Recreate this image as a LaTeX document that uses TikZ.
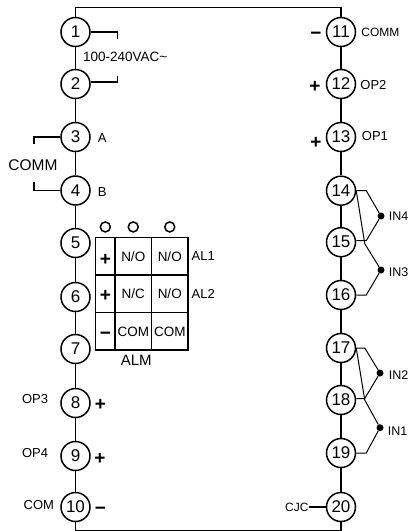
\documentclass[tikz,border=0pt]{standalone}
\usepackage{fontspec}
\setmainfont{Liberation Sans}
\usetikzlibrary{positioning,shapes.geometric}
\tikzset{
  terminalNode/.style={
    circle,
    draw=black,
    line width=1.5pt,
    minimum size=29pt,
    inner sep=0pt,
    on grid,
    font=\fontsize{17}{19}\selectfont
  },
  mainLine/.style={
    line width=1.5pt
  },
  thinLine/.style={
    line width=1pt
  },
  tagText/.style={
    inner sep=0pt,
    font=\fontsize{13}{15}\selectfont
  },
  signText/.style={
    inner sep=0pt,
    font=\fontsize{19}{21}\selectfont
  },
  alarmCell/.style={
    rectangle,
    draw=black,
    line width=1.5pt,
    outer sep=0pt,
    inner sep=0pt,
    minimum height=37.5pt,
    font=\fontsize{13.5}{15}\selectfont
  },
  signCell/.style={alarmCell, minimum width=19.3pt},
  wideCell/.style={alarmCell, minimum width=36.5pt},
  relayDot/.style={
    circle,
    draw=black,
    line width=1.5pt,
    minimum size=10pt,
    inner sep=0pt
  },
  inputDot/.style={
    circle,
    fill=black,
    minimum size=7pt,
    inner sep=0pt
  }
}
\begin{document}
\begin{tikzpicture}[x=1pt,y=-1pt]
        \useasboundingbox (0,0) rectangle (411,531);

        % left terminals
        \node[terminalNode] (t1) at (75.5,32) {1};
        \node[terminalNode, below=52pt of t1] (t2) {2};
        \node[terminalNode, below=53pt of t2] (t3) {3};
        \node[terminalNode, below=53.5pt of t3] (t4) {4};
        \node[terminalNode, below=52.5pt of t4] (t5) {5};
        \node[terminalNode, below=54pt of t5] (t6) {6};
        \node[terminalNode, below=52pt of t6] (t7) {7};
        \node[terminalNode, below=54pt of t7] (t8) {8};
        \node[terminalNode, below=53pt of t8] (t9) {9};
        \node[terminalNode, below=51pt of t9] (t10) {10};

        % right terminals
        \node[terminalNode] (t11) at (341,32) {11};
        \node[terminalNode, below=52pt of t11] (t12) {12};
        \node[terminalNode, below=53pt of t12] (t13) {13};
        \node[terminalNode, below=53.7pt of t13] (t14) {14};
        \node[terminalNode, below=51.5pt of t14] (t15) {15};
        \node[terminalNode, below=52.8pt of t15] (t16) {16};
        \node[terminalNode, below=53pt of t16] (t17) {17};
        \node[terminalNode, below=52pt of t17] (t18) {18};
        \node[terminalNode, below=53pt of t18] (t19) {19};
        \node[terminalNode, below=54pt of t19] (t20) {20};

        % alarm table
        \node[signCell, anchor=north west] (c11) at (95.7,237.7) {};
        \node[wideCell, right=0pt of c11] (c12) {N/O};
        \node[wideCell, right=0pt of c12] (c13) {N/O};
        \node[signCell, below=0pt of c11] (c21) {};
        \node[wideCell, right=0pt of c21] (c22) {N/C};
        \node[wideCell, right=0pt of c22] (c23) {N/O};
        \node[signCell, below=0pt of c21] (c31) {};
        \node[wideCell, right=0pt of c31] (c32) {COM};
        \node[wideCell, right=0pt of c32] (c33) {COM};
        \node[signText, yshift=-3pt] (plusA) at (c11) {\textbf{+}};
        \node[signText, yshift=-2pt] (plusB) at (c21) {\textbf{+}};
        \node[signText, yshift=-4pt] (minusC) at (c31) {\textbf{−}};
        \node[relayDot, above=5pt of c11] (r1) {};
        \node[relayDot, above=5pt of c12] (r2) {};
        \node[relayDot, above=5pt of c13] (r3) {};
        \node[tagText, right=3.5pt of c13] (al1) {AL1};
        \node[tagText, right=3.5pt of c23] (al2) {AL2};
        \node[tagText, below=5pt of c32, xshift=3pt, font=\fontsize{15}{17}\selectfont] (alm) {ALM};

        % free ends
        \coordinate (f1) at (117.3,39);
        \coordinate (f2) at (117.3,76);
        \coordinate (f3) at (34,144);
        \coordinate (f4) at (34,182);
        \coordinate (topL) at (75.5,7.5);
        \coordinate (topR) at (341,7.5);
        \coordinate (botL) at (75.5,530.5);
        \coordinate (botR) at (341,530.5);

        % input dots
        \node[inputDot] (in4) at (381,216) {};
        \node[inputDot] (in3) at (381,270) {};
        \node[inputDot] (in2) at (380,373) {};
        \node[inputDot] (in1) at (380,427.7) {};

        % labels
        \node[tagText, anchor=west, font=\fontsize{13.5}{15}\selectfont] (ac) at (83,57) {100-240VAC\textasciitilde};
        \node[tagText, right=7pt of t3, yshift=-1pt] (la) {A};
        \node[tagText, right=7pt of t4, yshift=-2pt] (lb) {B};
        \node[tagText, font=\fontsize{15.5}{17}\selectfont] (comm) at (33,165) {COMM};
        \node[tagText, left=12pt of t8, yshift=4pt] (op3) {OP3};
        \node[tagText, left=12pt of t9, yshift=3pt] (op4) {OP4};
        \node[tagText, left=6pt of t10, yshift=2pt] (com) {COM};
        \node[signText, right=4pt of t8, yshift=-2pt] (p8) {\textbf{+}};
        \node[signText, right=3.5pt of t9, yshift=-3pt] (p9) {\textbf{+}};
        \node[signText, right=4pt of t10, yshift=-4pt] (m10) {\textbf{−}};
        \node[signText, left=4pt of t11, yshift=-4pt] (m11) {\textbf{−}};
        \node[signText, left=5pt of t12, yshift=-3pt] (p12) {\textbf{+}};
        \node[signText, left=4pt of t13, yshift=-6pt] (p13) {\textbf{+}};
        \node[tagText, right=5pt of t11, font=\fontsize{12}{14}\selectfont] (lcomm) {COMM};
        \node[tagText, right=4pt of t12, yshift=-1pt] (op2) {OP2};
        \node[tagText, right=5.5pt of t13, yshift=1pt] (op1) {OP1};
        \node[tagText, right=4pt of in4, font=\fontsize{12.5}{14}\selectfont] (lin4) {IN4};
        \node[tagText, right=4pt of in3, yshift=-2pt, font=\fontsize{12.5}{14}\selectfont] (lin3) {IN3};
        \node[tagText, right=5pt of in2, yshift=-2pt, font=\fontsize{12.5}{14}\selectfont] (lin2) {IN2};
        \node[tagText, right=4pt of in1, yshift=-3pt, font=\fontsize{12.5}{14}\selectfont] (lin1) {IN1};
        \node[tagText, left=17pt of t20, font=\fontsize{12}{14}\selectfont] (cjc) {CJC};

        % frame and column lines
        \draw[mainLine] (t1) -- (topL) -- (topR) -- (t11);
        \draw[mainLine] (t10) -- (botL) -- (botR) -- (t20);
        \draw[mainLine] (t1) -- (t2);
        \draw[mainLine] (t2) -- (t3);
        \draw[mainLine] (t3) -- (t4);
        \draw[mainLine] (t4) -- (t5);
        \draw[mainLine] (t5) -- (t6);
        \draw[mainLine] (t6) -- (t7);
        \draw[mainLine] (t7) -- (t8);
        \draw[mainLine] (t8) -- (t9);
        \draw[mainLine] (t9) -- (t10);
        \draw[mainLine] (t11) -- (t12);
        \draw[mainLine] (t12) -- (t13);
        \draw[mainLine] (t13) -- (t14);
        \draw[mainLine] (t14) -- (t15);
        \draw[mainLine] (t15) -- (t16);
        \draw[mainLine] (t16) -- (t17);
        \draw[mainLine] (t17) -- (t18);
        \draw[mainLine] (t18) -- (t19);
        \draw[mainLine] (t19) -- (t20);

        % supply and comm brackets
        \draw[mainLine] (t1) -| (f1);
        \draw[mainLine] (t2.east) ++(0,-2) -| (f2);
        \draw[mainLine] (t3) -| (f3);
        \draw[mainLine] (t4) -| (f4);
        \draw[mainLine] (cjc) -- (t20);

        % input wiring
        \draw[thinLine] (t14.east) -- ++(10,0) -- (in4);
        \draw[thinLine] (t15.east) ++(0,-1.5) -- ++(10,0) -- (in4);
        \draw[thinLine] (t14.east) -- ++(8.5,53) -- (in3);
        \draw[thinLine] (t16.east) -- ++(10,0) -- (in3);
        \draw[thinLine] (t17.east) -- ++(8.5,0) -- (in2);
        \draw[thinLine] (t18.east) ++(0,-1.5) -- ++(8.5,0) -- (in2);
        \draw[thinLine] (t17.east) -- ++(8.5,52) -- (in1);
        \draw[thinLine] (t19.east) -- ++(10,0) -- (in1);
    \end{tikzpicture}
\end{document}
